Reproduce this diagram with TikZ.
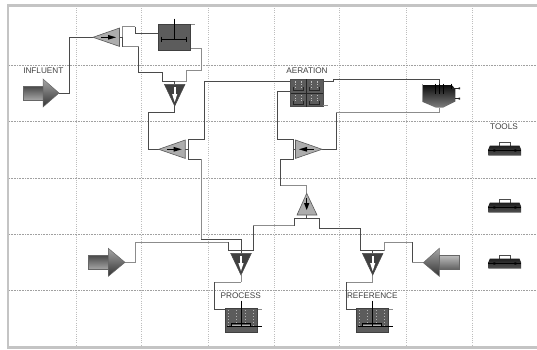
\documentclass[tikz,border=0pt]{standalone}
\usepackage{fontspec}
\setmainfont{Liberation Sans}
\usetikzlibrary{calc}
\definecolor{frameg}{HTML}{C4C4C4}
\definecolor{gridg}{HTML}{A0A0A0}
\definecolor{gridv}{HTML}{BDBDBD}
\definecolor{pipe}{HTML}{4A4A4A}
\definecolor{pipeg}{HTML}{8C8C8C}
\definecolor{splitg}{HTML}{ADADAD}
\definecolor{tankg}{HTML}{5C5C5C}
\tikzset{
  x=1pt,y=-1pt,
  gridh/.style={gridg,line width=.6pt,densely dotted},
  gridvert/.style={gridv,line width=1pt,dash pattern=on 1pt off 1.2pt},
  conn/.style={pipe,line width=.75pt},
  conng/.style={pipeg,line width=.9pt},
  lab/.style={font=\fontsize{8.2}{9}\selectfont,text=black!75,inner sep=0pt},
  splitbody/.style={fill=splitg,draw=black!65,line width=.6pt},
  mixbody/.style={fill=black!75,draw=black!70,line width=.6pt},
  arrowedge/.style={draw=black!60,line width=.5pt},
  bodydark/.style={arrowedge,top color=black!72,bottom color=black!35},
  bodylight/.style={arrowedge,top color=black!25,bottom color=black!62},
  headshade/.style={arrowedge,top color=black!35,middle color=black!42,bottom color=black!80},
  tankbody/.style={fill=tankg,draw=black!75,line width=.7pt},
  shaft/.style={black,line width=.9pt},
}
% splitter triangle: tip at #1, body on side #2 (1 = to the right, -1 = to the left)
\newcommand{\splith}[2]{%
  \path[splitbody] (#1) -- ++({#2*26.5},-9.3) -- ++(0,18.4) -- cycle;
  \fill[black] ($(#1)+({#2*8},-0.6)$) rectangle ($(#1)+({#2*17},0.6)$);
  \fill[black] ($(#1)+({#2*23},0)$) -- ($(#1)+({#2*15},-2.4)$) -- ($(#1)+({#2*15},2.4)$) -- cycle;
}
% mixer pointing down, tip at #1
\newcommand{\mixdown}[1]{%
  \path[mixbody] (#1) -- ++(-10.3,-21.7) -- ++(20.6,0) -- cycle;
  \fill[white] ($(#1)+(-1,-19)$) rectangle ($(#1)+(1,-9)$);
  \fill[white] ($(#1)+(0,-4)$) -- ($(#1)+(-2.6,-12)$) -- ($(#1)+(2.6,-12)$) -- cycle;
}
\newcommand{\toolbox}[1]{%
  \begin{scope}[shift={(#1)}]
    \draw[black!70,line width=.7pt] (11,3.5) -- (11,0) -- (22,0) -- (22,3.5);
    \path[top color=black!88,bottom color=black!68] (1.5,3.4) -- (31.2,3.4) -- (32.7,7) -- (32.7,13.4) -- (0,13.4) -- (0,7) -- cycle;
    \draw[black,line width=.6pt] (0,7.6) -- (32.7,7.6);
    \fill[black] (5,7) rectangle (7,9.4) (26,7) rectangle (28,9.4);
  \end{scope}
}
% activated-sludge tank, #1 = top-left corner
\newcommand{\proctank}[1]{%
  \begin{scope}[shift={(#1)}]
    \draw[pipeg,line width=.9pt] (0,1.4) -- (37,1.4);
    \path[tankbody] (0,0) rectangle (32.3,24);
    \foreach \cx in {3,11,20,28}
      \draw[black!30,line width=.8pt,dash pattern=on 1.2pt off 1.8pt] (\cx,1.5) -- (\cx,17);
    \draw[black,line width=.7pt] (6.5,19) -- (6.5,15) -- (25,15) -- (25,19);
    \draw[black,line width=.8pt] (1.5,18.5) -- (37,18.5);
    \draw[black!30,line width=.6pt] (7,17) -- (24.5,17);
    \draw[shaft] (16,-7.6) -- (16,18.5);
  \end{scope}
}
\begin{document}
\begin{tikzpicture}
\useasboundingbox (0,0) rectangle (537,349);
\fill[white] (0,0) rectangle (537,349);
% grid
\foreach \gx in {76,141,208,274,339.5,406.5,472}
  \draw[gridvert] (\gx,8) -- (\gx,346);
\foreach \gy in {65,121.5,178,234.5,290.5}
  \draw[gridh] (9,\gy) -- (537,\gy);
% window frame
\fill[frameg] (7,4) rectangle (537,7.3);
\fill[frameg] (7,4) rectangle (9.3,348);
\fill[frameg] (7,346) rectangle (537,348.5);

% ports
\coordinate (inflTip) at (59,93);
\coordinate (s1Tip) at (93,37.3);
\coordinate (t1L) at (158.3,33.3);
\coordinate (t1R) at (190.7,48.7);
\coordinate (m1Top) at (174.7,81);
\coordinate (m1Tip) at (174.7,106);
\coordinate (s2Tip) at (158.7,149.3);
\coordinate (aerL1) at (290.7,81);
\coordinate (aerL2) at (290.7,91.7);
\coordinate (aerR) at (323,81);
\coordinate (clarT) at (439.3,85);
\coordinate (clarB) at (439.3,107.7);
\coordinate (s4Tip) at (322,149.3);
\coordinate (s3Tip) at (306.7,193.3);
\coordinate (s3Base) at (306.7,215);
\coordinate (m2Top) at (241,253.3);
\coordinate (m2Tip) at (241,275);
\coordinate (m3Top) at (372.7,253.3);
\coordinate (m3Tip) at (372.7,275);
\coordinate (tpL) at (225,309.7);
\coordinate (trL) at (356.3,309.7);
\coordinate (in2Tip) at (125,262.3);
\coordinate (in3Tip) at (423.3,262.7);

% connectors
\draw[conn] (inflTip) -- (69,93) -- (69,37.3) -- (s1Tip);
\draw[conn] (119.5,37.3) -- (122.7,37.3);
\draw[conng] (122.7,37.3) -- (122.7,26.7) -- (135.3,26.7);
\draw[conn] (135.3,26.7) -- (135.3,33.3) -- (t1L);
\draw[conn] (122.7,37.3) -- (122.7,46.7);
\draw[conng] (122.7,46.7) -- (138.7,46.7);
\draw[conn] (138.7,46.7) -- (138.7,72.7) -- (162.7,72.7) -- (162.7,81) -- (m1Top);
\draw[conng] (t1R) -- (201,48.7) -- (201,70) -- (186.7,70) -- (186.7,81) -- (m1Top);
\draw[conn] (m1Top) -- (174.7,84.3);
\draw[conn] (m1Tip) -- (174.7,112.7) -- (148.3,112.7) -- (148.3,149.3) -- (s2Tip);
\draw[conn] (185,149.3) -- (188.7,149.3) -- (188.7,139.3) -- (204,139.3) -- (204,81) -- (aerL1);
\draw[conn] (188.7,149.3) -- (188.7,159.3) -- (201,159.3);
\draw[conng] (201,159.3) -- (201,239.3);
\draw[conn] (201,239.3) -- (241,239.3) -- (241,253.3);
\draw[conng] (in2Tip) -- (135.7,262.3) -- (135.7,242) -- (228.7,242);
\draw[conn] (228.7,242) -- (228.7,250.7) -- (253.3,250.7);
\draw[conn] (253.3,250.7) -- (253.3,225.7);
\draw[conng] (253.3,225.7) -- (294.3,225.7);
\draw[conn] (294.3,225.7) -- (294.3,218.3) -- (319,218.3) -- (319,228.3) -- (360.3,228.3) -- (360.3,250.7) -- (384.7,250.7);
\draw[conn] (s3Base) -- (306.7,218.3);
\draw[conng] (384.7,250.7) -- (384.7,242) -- (412.3,242);
\draw[conn] (412.3,242) -- (412.3,262.7);
\draw[conng] (412.3,262.7) -- (in3Tip);
\draw[conn] (372.7,250.7) -- (m3Top);
\draw[conng] (s3Tip) -- (306.7,185.7) -- (280.3,185.7);
\draw[conn] (280.3,185.7) -- (280.3,159.3) -- (293,159.3) -- (293,139.3) -- (277.7,139.3) -- (277.7,91.7) -- (aerL2);
\draw[conn] (293,149.3) -- (297,149.3);
\draw[conn] (s4Tip) -- (336.3,149.3) -- (336.3,112.7);
\draw[conng] (336.3,112.7) -- (439.3,112.7) -- (clarB);
\draw[conn] (aerR) -- (333.7,81) -- (333.7,79.3) -- (439.3,79.3) -- (clarT);
\draw[conng] (m2Tip) -- (241,282);
\draw[conng] (241,282) -- (214.3,282);
\draw[conn] (214.3,282) -- (214.3,309.7) -- (tpL);
\draw[conng] (m3Tip) -- (372.7,282) -- (346.3,282);
\draw[conn] (346.3,282) -- (346.3,309.7) -- (trL);

% feed arrows
\path[bodydark] (23,86) rectangle (43.5,100);
\path[headshade] (43,79) -- (inflTip) -- (43,107) -- cycle;
\path[bodydark] (88.3,255) rectangle (108.8,269.3);
\path[headshade] (108.3,248.3) -- (in2Tip) -- (108.3,276.3) -- cycle;
\path[bodylight] (459.7,255) rectangle (438.8,269.3);
\path[headshade] (439.3,248.3) -- (in3Tip) -- (439.3,276.3) -- cycle;

% splitters
\splith{s1Tip}{1}
\splith{s2Tip}{1}
\splith{s4Tip}{-1}
\path[splitbody] (s3Tip) -- (297,215) -- (317,215) -- cycle;
\fill[black] (306.1,198) rectangle (307.3,205);
\fill[black] (306.7,210) -- (304,203) -- (309.4,203) -- cycle;

% mixers
\mixdown{m1Tip}
\mixdown{m2Tip}
\mixdown{m3Tip}

% first tank
\draw[pipeg,line width=.9pt] (190,24.7) -- (195,24.7);
\path[tankbody] (158.3,24) rectangle (190.7,50.7);
\draw[shaft] (174,18.7) -- (174,39.3);
\draw[shaft] (161.7,39.3) -- (186.7,39.3);
\draw[shaft] (161.7,36.5) -- (161.7,42) (186.7,36.5) -- (186.7,42);

% aeration basin
\path[fill=tankg,draw=black!70,line width=.7pt] (290.7,79.3) rectangle (323,106.7);
\draw[black!85,line width=.9pt] (306.8,79.3) -- (306.8,106.7) (290.7,93) -- (323,93);
\draw[pipeg,line width=.8pt] (323,105) -- (327.5,105);
\foreach \ax/\ay in {290.7/79.3,306.8/79.3,290.7/93,306.8/93}{
  \draw[black!25,line width=.8pt,dash pattern=on 1.2pt off 1.4pt] (\ax+5,\ay+2) -- (\ax+5,\ay+9) (\ax+11,\ay+2) -- (\ax+11,\ay+9);
  \draw[black!85,line width=.7pt] (\ax+3,\ay+8) -- (\ax+3,\ay+11) -- (\ax+13,\ay+11) -- (\ax+13,\ay+8);
}

% clarifier
\path[top color=black!95,bottom color=black!50] (422.7,85) -- (451.7,85) -- (455.3,89) -- (455.3,101.5) -- (443,107.7) -- (436,107.7) -- (422.7,102) -- cycle;
\draw[black!40,line width=.6pt] (422.7,84) -- (422.7,102);
\draw[black,line width=.8pt] (435,83.5) -- (435,94) (439.3,83.5) -- (439.3,94) (443,83.5) -- (443,94) (451.7,83.5) -- (451.7,89);
\draw[black!85,line width=.7pt] (451.7,88.3) -- (459.7,88.3) (455,98.7) -- (459.7,98.7);
\fill[black!85] (458.5,87.3) rectangle (460,89.3) (458.5,97.7) rectangle (460,99.7);

% process tanks
\proctank{225,308.3}
\proctank{356.3,308.3}

% toolboxes
\toolbox{488.3,142.3}
\toolbox{488.3,199.3}
\toolbox{488.3,255.3}

% labels
\node[lab] (linfl) at (43.3,70.7) {INFLUENT};
\node[lab] (laer) at (307,70.7) {AERATION};
\node[lab] (ltools) at (504,126.7) {TOOLS};
\node[lab] (lproc) at (240.7,295.7) {PROCESS};
\node[lab] (lref) at (372.3,295.7) {REFERENCE};
\end{tikzpicture}
\end{document}
